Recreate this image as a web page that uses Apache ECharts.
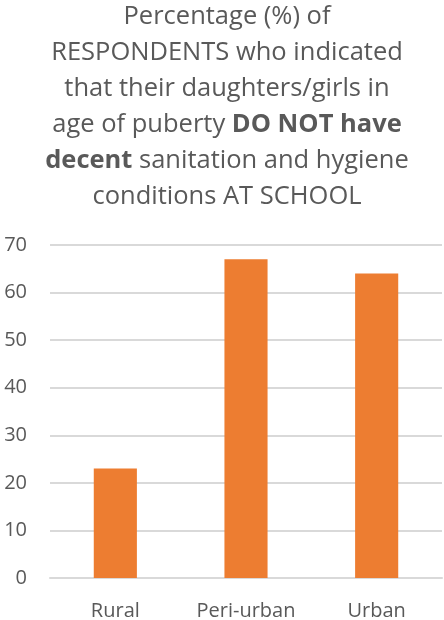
<!DOCTYPE html>
<html><head><meta charset="utf-8">
<script src="https://cdn.jsdelivr.net/npm/echarts@6/dist/echarts.min.js"></script>
<style>html,body{margin:0;padding:0;background:#fff}#c{width:444px;height:620px}</style>
</head><body><div id="c"></div>
<script>
const categories = ['Rural', 'Peri-urban', 'Urban'];
const values = [23, 67, 64];
const yTicks = {min: 0, max: 70, interval: 10};

const chart = echarts.init(document.getElementById('c'));
const tf = 'Open Sans';
chart.setOption({
  animation: false,
  title: {
    left: 222, top: -6,
    text: 'Percentage (%) of\nRESPONDENTS who indicated\nthat their daughters/girls in\nage of puberty {b|DO NOT have}\n{b|decent} sanitation and hygiene\nconditions AT SCHOOL',
    textAlign: 'center',
    textStyle: {
      fontFamily: tf, fontSize: 25.5, fontWeight: 'normal', color: '#595959', lineHeight: 36, align: 'center',
      rich: { b: { fontFamily: tf, fontSize: 25.5, fontWeight: 'bold', color: '#595959', lineHeight: 36 } }
    }
  },
  grid: { left: 50, right: 2, top: 245, bottom: 42, containLabel: false, outerBoundsMode: 'none' },
  xAxis: {
    type: 'category', data: categories,
    axisLine: { lineStyle: { color: '#d9d9d9', width: 2 } },
    axisTick: { show: false },
    axisLabel: { color: '#595959', fontFamily: tf, fontSize: 20, margin: 23 }
  },
  yAxis: {
    type: 'value', min: yTicks.min, max: yTicks.max, interval: yTicks.interval,
    axisLine: { show: false }, axisTick: { show: false },
    splitLine: { lineStyle: { color: '#d9d9d9', width: 2 } },
    axisLabel: { color: '#595959', fontFamily: tf, fontSize: 20, margin: 23 }
  },
  series: [{
    type: 'bar', data: values, barWidth: '33%',
    itemStyle: { color: '#ed7d31' }
  }]
});
</script></body></html>
